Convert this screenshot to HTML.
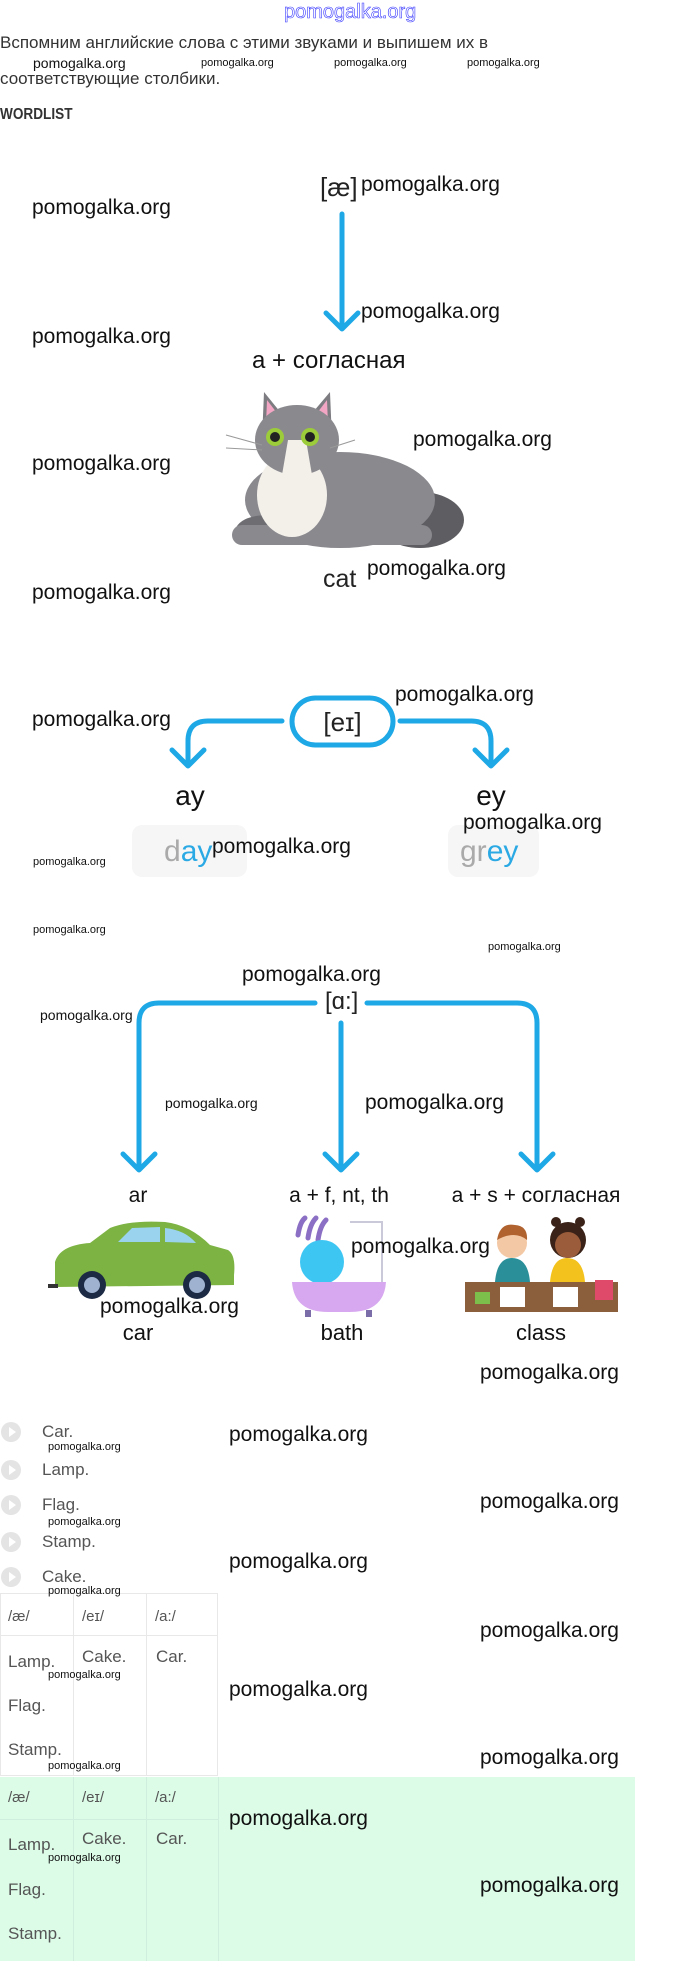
<!DOCTYPE html>
<html><head><meta charset="utf-8">
<style>
html,body{margin:0;padding:0;background:#fff;}
body{width:680px;height:1961px;position:relative;overflow:hidden;font-family:"Liberation Sans",sans-serif;}
.a{position:absolute;white-space:nowrap;}
.w{position:absolute;white-space:nowrap;font-size:21px;line-height:22px;color:#111;}
.s{position:absolute;white-space:nowrap;font-size:11px;line-height:12px;color:#111;}
.m{position:absolute;white-space:nowrap;font-size:14px;line-height:14px;color:#111;}
.li{position:absolute;left:42px;font-size:17px;line-height:18px;color:#555;}
.dot{position:absolute;left:1px;width:20px;height:20px;border-radius:50%;background:#e4e4e4;}
.dot:after{content:"";position:absolute;left:8px;top:5px;border-left:7px solid #fff;border-top:5px solid transparent;border-bottom:5px solid transparent;}
.t{position:absolute;font-size:17px;line-height:18px;color:#555;}
.h{position:absolute;font-size:15px;line-height:16px;color:#555;}
</style></head><body>

<div class="a" style="left:284px;top:1px;font-size:20px;line-height:22px;color:#fff;-webkit-text-stroke:0.6px #3a3aff;">pomogalka.org</div>
<div class="a" style="left:0;top:33px;font-size:17px;line-height:20px;color:#333;">Вспомним английские слова с этими звуками и выпишем их в</div>
<div class="m" style="left:33px;top:56px;">pomogalka.org</div>
<div class="s" style="left:201px;top:57px;">pomogalka.org</div>
<div class="s" style="left:334px;top:57px;">pomogalka.org</div>
<div class="s" style="left:467px;top:57px;">pomogalka.org</div>
<div class="a" style="left:0;top:69px;font-size:17px;line-height:20px;color:#333;">соответствующие столбики.</div>
<div class="a" style="left:0;top:106px;font-size:16px;line-height:18px;font-weight:bold;color:#333;transform:scaleX(0.85);transform-origin:0 0;">WORDLIST</div>

<svg class="a" style="left:0;top:0" width="680" height="1961">
<g fill="none" stroke="#1ea8e6" stroke-width="5" stroke-linecap="round" stroke-linejoin="round">
<path d="M342 214 V329 M326 313 L342 329 L358 313"/>
<rect x="292" y="698" width="101" height="47" rx="23.5"/>
<path d="M282 721 H208 Q188 721 188 741 V766 M172 750 L188 766 L204 750"/>
<path d="M400 721 H471 Q491 721 491 741 V766 M475 750 L491 766 L507 750"/>
<path d="M315 1003 H159 Q139 1003 139 1023 V1170 M123 1154 L139 1170 L155 1154"/>
<path d="M341 1023 V1170 M325 1154 L341 1170 L357 1154"/>
<path d="M367 1003 H517 Q537 1003 537 1023 V1170 M521 1154 L537 1170 L553 1154"/>
</g>
<g>
<ellipse cx="420" cy="520" rx="44" ry="28" fill="#5e5e62"/>
<ellipse cx="340" cy="500" rx="95" ry="48" fill="#8a898e"/>
<path d="M235 530 Q240 515 270 515 L300 530 Z" fill="#6e6d72"/>
<rect x="232" y="525" width="200" height="20" rx="10" fill="#8a898e"/>
<ellipse cx="292" cy="495" rx="35" ry="42" fill="#f3f0ea"/>
<path d="M262 440 L264 392 L285 418 Z" fill="#7d7c81"/>
<path d="M332 440 L330 392 L308 418 Z" fill="#7d7c81"/>
<path d="M266 425 L267 400 L280 417 Z" fill="#f2a6c3"/>
<path d="M328 425 L327 400 L314 417 Z" fill="#f2a6c3"/>
<ellipse cx="297" cy="440" rx="42" ry="35" fill="#8a898e"/>
<path d="M288 440 L306 440 L312 475 L282 475 Z" fill="#f3f0ea"/>
<circle cx="275" cy="437" r="9" fill="#9ccc3a"/><circle cx="275" cy="437" r="5" fill="#222"/>
<circle cx="310" cy="437" r="9" fill="#9ccc3a"/><circle cx="310" cy="437" r="5" fill="#222"/>
<path d="M226 435 L262 445 M226 448 L262 450 M330 448 L355 440" stroke="#999" stroke-width="1"/>
</g>
<g>
<path d="M55 1262 Q60 1245 90 1243 L110 1228 Q130 1220 165 1222 Q190 1225 210 1245 L228 1250 Q236 1255 234 1275 L234 1285 L55 1287 Z" fill="#7cb342"/>
<path d="M118 1242 L132 1228 L160 1227 L160 1242 Z M165 1242 L165 1228 Q185 1230 196 1243 Z" fill="#9ad3ee"/>
<rect x="48" y="1284" width="10" height="4" fill="#333"/>
<circle cx="92" cy="1285" r="14" fill="#1c2a44"/><circle cx="92" cy="1285" r="8" fill="#9fb3d1"/>
<circle cx="197" cy="1285" r="14" fill="#1c2a44"/><circle cx="197" cy="1285" r="8" fill="#9fb3d1"/>
</g>
<g>
<path d="M350 1222 H382 V1285" stroke="#c9c9d9" stroke-width="2" fill="none"/>
<path d="M298 1235 Q300 1222 305 1218 M308 1238 Q310 1224 316 1218 M318 1240 Q320 1226 326 1220" stroke="#8a6fc4" stroke-width="5" fill="none" stroke-linecap="round"/>
<ellipse cx="322" cy="1262" rx="22" ry="22" fill="#3ec6f3"/>
<path d="M292 1282 H386 Q384 1312 350 1312 H328 Q294 1312 292 1282 Z" fill="#d7a8ef"/>
<rect x="305" y="1310" width="6" height="7" fill="#7a6da8"/><rect x="366" y="1310" width="6" height="7" fill="#7a6da8"/>
</g>
<g>
<rect x="465" y="1282" width="153" height="30" fill="#8b5e3c"/>
<path d="M495 1282 Q497 1258 512 1258 Q528 1258 530 1282 Z" fill="#2a8f98"/>
<path d="M550 1282 Q552 1258 567 1258 Q583 1258 585 1282 Z" fill="#f3c21c"/>
<circle cx="512" cy="1243" r="15" fill="#f3c8a5"/>
<path d="M497 1240 Q500 1222 515 1225 Q528 1226 527 1240 Q515 1230 497 1240 Z" fill="#b0622f"/>
<circle cx="568" cy="1240" r="18" fill="#3a2218"/>
<circle cx="568" cy="1245" r="13" fill="#9a5c3a"/>
<circle cx="556" cy="1222" r="5" fill="#3a2218"/><circle cx="580" cy="1222" r="5" fill="#3a2218"/>
<rect x="500" y="1287" width="25" height="20" fill="#fff"/><rect x="553" y="1287" width="25" height="20" fill="#fff"/>
<rect x="475" y="1292" width="15" height="12" fill="#7cbf4a"/><rect x="595" y="1280" width="18" height="20" fill="#e04a6a"/>
</g>
</svg>

<div class="a" style="left:320px;top:172px;font-size:26px;line-height:30px;color:#222;">[æ]</div>
<div class="a" style="left:252px;top:347px;font-size:24px;line-height:28px;color:#111;">а + согласная</div>
<div class="a" style="left:323px;top:564px;font-size:25px;line-height:30px;color:#222;">cat</div>
<div class="a" style="left:292px;top:707px;width:101px;text-align:center;font-size:26px;line-height:30px;color:#222;">[eɪ]</div>
<div class="a" style="left:150px;top:780px;width:80px;text-align:center;font-size:28px;line-height:32px;color:#111;">ay</div>
<div class="a" style="left:451px;top:780px;width:80px;text-align:center;font-size:28px;line-height:32px;color:#111;">ey</div>
<div class="a" style="left:132px;top:825px;width:115px;height:52px;border-radius:10px;background:#f6f6f6;"></div>
<div class="a" style="left:448px;top:825px;width:91px;height:52px;border-radius:10px;background:#f6f6f6;"></div>
<div class="a" style="left:164px;top:835px;font-size:30px;line-height:34px;"><span style="color:#aaa">d</span><span style="color:#2aa9e4">ay</span></div>
<div class="a" style="left:460px;top:835px;font-size:30px;line-height:34px;"><span style="color:#aaa">gr</span><span style="color:#2aa9e4">ey</span></div>
<div class="a" style="left:325px;top:988px;font-size:24px;line-height:28px;color:#222;">[ɑ:]</div>
<div class="a" style="left:98px;top:1183px;width:80px;text-align:center;font-size:21px;line-height:26px;color:#111;">ar</div>
<div class="a" style="left:269px;top:1183px;width:140px;text-align:center;font-size:21px;line-height:26px;color:#111;">a + f, nt, th</div>
<div class="a" style="left:436px;top:1183px;width:200px;text-align:center;font-size:21px;line-height:26px;color:#111;">a + s + согласная</div>
<div class="a" style="left:98px;top:1320px;width:80px;text-align:center;font-size:22px;line-height:26px;color:#111;">car</div>
<div class="a" style="left:302px;top:1320px;width:80px;text-align:center;font-size:22px;line-height:26px;color:#111;">bath</div>
<div class="a" style="left:501px;top:1320px;width:80px;text-align:center;font-size:22px;line-height:26px;color:#111;">class</div>

<div class="dot" style="top:1422px"></div><div class="li" style="top:1423px">Car.</div>
<div class="dot" style="top:1460px"></div><div class="li" style="top:1461px">Lamp.</div>
<div class="dot" style="top:1495px"></div><div class="li" style="top:1496px">Flag.</div>
<div class="dot" style="top:1532px"></div><div class="li" style="top:1533px">Stamp.</div>
<div class="dot" style="top:1567px"></div><div class="li" style="top:1568px">Cake.</div>

<div class="a" style="left:0;top:1593px;width:218px;height:183px;border:1px solid #e8e8e8;box-sizing:border-box;"></div>
<div class="a" style="left:73px;top:1593px;width:1px;height:183px;background:#e8e8e8;"></div>
<div class="a" style="left:146px;top:1593px;width:1px;height:183px;background:#e8e8e8;"></div>
<div class="a" style="left:0;top:1635px;width:218px;height:1px;background:#e8e8e8;"></div>
<div class="h" style="left:8px;top:1609px">/æ/</div><div class="h" style="left:82px;top:1609px">/eɪ/</div><div class="h" style="left:155px;top:1609px">/a:/</div>
<div class="t" style="left:8px;top:1653px">Lamp.</div><div class="t" style="left:82px;top:1648px">Cake.</div><div class="t" style="left:156px;top:1648px">Car.</div>
<div class="t" style="left:8px;top:1697px">Flag.</div><div class="t" style="left:8px;top:1741px">Stamp.</div>

<div class="a" style="left:0;top:1777px;width:635px;height:184px;background:#dcfce8;"></div>
<div class="a" style="left:73px;top:1777px;width:1px;height:184px;background:#cfeedd;"></div>
<div class="a" style="left:146px;top:1777px;width:1px;height:184px;background:#cfeedd;"></div>
<div class="a" style="left:218px;top:1777px;width:1px;height:184px;background:#cfeedd;"></div>
<div class="a" style="left:0;top:1819px;width:218px;height:1px;background:#cfeedd;"></div>
<div class="h" style="left:8px;top:1790px">/æ/</div><div class="h" style="left:82px;top:1790px">/eɪ/</div><div class="h" style="left:155px;top:1790px">/a:/</div>
<div class="t" style="left:8px;top:1836px">Lamp.</div><div class="t" style="left:82px;top:1830px">Cake.</div><div class="t" style="left:156px;top:1830px">Car.</div>
<div class="t" style="left:8px;top:1881px">Flag.</div><div class="t" style="left:8px;top:1925px">Stamp.</div>

<div class="w" style="left:32px;top:197px">pomogalka.org</div>
<div class="w" style="left:32px;top:326px">pomogalka.org</div>
<div class="w" style="left:32px;top:453px">pomogalka.org</div>
<div class="w" style="left:32px;top:582px">pomogalka.org</div>
<div class="w" style="left:32px;top:709px">pomogalka.org</div>
<div class="w" style="left:361px;top:174px">pomogalka.org</div>
<div class="w" style="left:361px;top:301px">pomogalka.org</div>
<div class="w" style="left:413px;top:429px">pomogalka.org</div>
<div class="w" style="left:367px;top:558px">pomogalka.org</div>
<div class="w" style="left:395px;top:684px">pomogalka.org</div>
<div class="w" style="left:463px;top:812px">pomogalka.org</div>
<div class="w" style="left:212px;top:836px">pomogalka.org</div>
<div class="s" style="left:33px;top:856px">pomogalka.org</div>
<div class="s" style="left:33px;top:924px">pomogalka.org</div>
<div class="s" style="left:488px;top:941px">pomogalka.org</div>
<div class="w" style="left:242px;top:964px">pomogalka.org</div>
<div class="m" style="left:40px;top:1008px">pomogalka.org</div>
<div class="m" style="left:165px;top:1096px">pomogalka.org</div>
<div class="w" style="left:365px;top:1092px">pomogalka.org</div>
<div class="w" style="left:351px;top:1236px">pomogalka.org</div>
<div class="w" style="left:100px;top:1296px">pomogalka.org</div>
<div class="w" style="left:480px;top:1362px">pomogalka.org</div>
<div class="w" style="left:229px;top:1424px">pomogalka.org</div>
<div class="w" style="left:229px;top:1551px">pomogalka.org</div>
<div class="w" style="left:229px;top:1679px">pomogalka.org</div>
<div class="w" style="left:229px;top:1808px">pomogalka.org</div>
<div class="w" style="left:480px;top:1491px">pomogalka.org</div>
<div class="w" style="left:480px;top:1620px">pomogalka.org</div>
<div class="w" style="left:480px;top:1747px">pomogalka.org</div>
<div class="w" style="left:480px;top:1875px">pomogalka.org</div>
<div class="s" style="left:48px;top:1441px">pomogalka.org</div>
<div class="s" style="left:48px;top:1516px">pomogalka.org</div>
<div class="s" style="left:48px;top:1585px">pomogalka.org</div>
<div class="s" style="left:48px;top:1669px">pomogalka.org</div>
<div class="s" style="left:48px;top:1760px">pomogalka.org</div>
<div class="s" style="left:48px;top:1852px">pomogalka.org</div>
</body></html>
